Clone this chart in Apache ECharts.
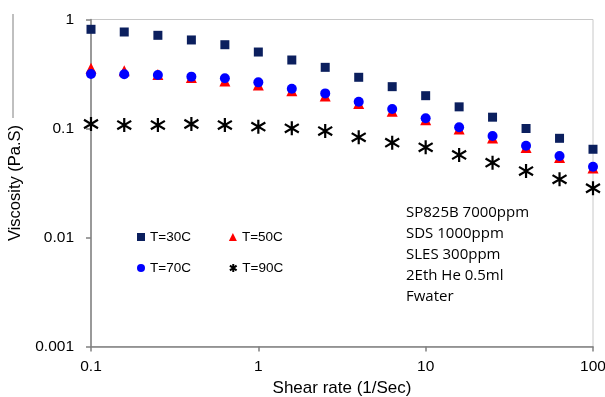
<!DOCTYPE html>
<html>
<head>
<meta charset="utf-8">
<script src="https://cdn.jsdelivr.net/npm/echarts@6/dist/echarts.min.js"></script>
<style>html,body{margin:0;padding:0;background:#fff;}#c{width:605px;height:397px;}</style>
</head>
<body>
<div id="c"></div>
<script>
const shearRate = [0.1, 0.158, 0.251, 0.398, 0.631, 1, 1.585, 2.51, 3.98, 6.31, 10, 15.85, 25.1, 39.8, 63.1, 100];
const t30 = [0.813, 0.768, 0.716, 0.649, 0.587, 0.503, 0.425, 0.364, 0.295, 0.242, 0.200, 0.158, 0.127, 0.100, 0.0813, 0.0645];
const t50 = [0.357, 0.339, 0.313, 0.294, 0.273, 0.251, 0.222, 0.199, 0.170, 0.144, 0.120, 0.0990, 0.0818, 0.0670, 0.0542, 0.0434];
const t70 = [0.316, 0.314, 0.310, 0.299, 0.289, 0.265, 0.232, 0.210, 0.176, 0.151, 0.124, 0.1026, 0.0854, 0.0695, 0.0559, 0.0446];
const t90 = [0.110, 0.1076, 0.1076, 0.110, 0.1076, 0.104, 0.1004, 0.0948, 0.0830, 0.0741, 0.0672, 0.0572, 0.0486, 0.0407, 0.0342, 0.0283];
const xTickLabels = ['0.1', '1', '10', '100'];
const yTickLabels = ['0.001', '0.01', '0.1', '1'];
const seriesNames = ['T=30C', 'T=50C', 'T=70C', 'T=90C'];
const noteLines = ['SP825B 7000ppm', 'SDS 1000ppm', 'SLES 300ppm', '2Eth He 0.5ml', 'Fwater'];

const pair = (ys) => shearRate.map((x, i) => [x, ys[i]]);
const starPath = 'path://M50,0L50,100M8,20L92,80M8,80L92,20';
const font = '"Liberation Sans"';

const chart = echarts.init(document.getElementById('c'), null, {renderer: 'canvas'});
chart.setOption({
  animation: false,
  backgroundColor: '#fff',
  grid: {left: 91, top: 19.5, right: 12, bottom: 50.5, containLabel: false, outerBoundsMode: 'none',
         show: true, borderColor: '#c8c8c8', borderWidth: 1},
  xAxis: {
    type: 'log', logBase: 10, min: 0.1, max: 100,
    name: 'Shear rate (1/Sec)', nameLocation: 'middle', nameGap: 33,
    nameTextStyle: {fontFamily: font, fontSize: 17, color: '#000'},
    axisLine: {show: true, lineStyle: {color: '#808080', width: 1.5}},
    axisTick: {show: true, length: 5, lineStyle: {color: '#808080', width: 1.5}},
    axisLabel: {margin: 12, fontFamily: font, fontSize: 15.5, color: '#000',
      formatter: (v, i) => xTickLabels[i] !== undefined ? xTickLabels[i] : ''},
    splitLine: {show: false}, minorTick: {show: false}
  },
  yAxis: {
    type: 'log', logBase: 10, min: 0.001, max: 1,
    name: 'Viscosity (Pa.S)', nameLocation: 'middle', nameGap: 64,
    nameTextStyle: {fontFamily: font, fontSize: 16.5, color: '#000'},
    axisLine: {show: true, lineStyle: {color: '#808080', width: 1.5}},
    axisTick: {show: true, length: 5, lineStyle: {color: '#808080', width: 1.5}},
    axisLabel: {margin: 17, fontFamily: font, fontSize: 15.5, color: '#000',
      formatter: (v, i) => yTickLabels[i] !== undefined ? yTickLabels[i] : ''},
    splitLine: {show: false}, minorTick: {show: false}
  },
  legend: [
    {data: [seriesNames[0], seriesNames[1]], left: 132, top: 225, itemWidth: 8, itemHeight: 8, itemGap: 38,
     textStyle: {fontFamily: font, fontSize: 13.5, color: '#000'}},
    {data: [seriesNames[2], seriesNames[3]], left: 132, top: 256, itemWidth: 8, itemHeight: 8, itemGap: 38,
     textStyle: {fontFamily: font, fontSize: 13.5, color: '#000'}}
  ],
  graphic: [
    {type: 'line', shape: {x1: 13, y1: 14, x2: 13, y2: 118}, style: {stroke: '#808080', lineWidth: 1}},
    {type: 'text', left: 406, top: 202, style: {text: noteLines.join('\n'), fontFamily: '"Open Sans"', fontSize: 15, lineHeight: 21, fill: '#000'}}
  ],
  series: [
    {name: seriesNames[3], type: 'scatter', data: pair(t90), symbol: starPath, symbolSize: 14,
     itemStyle: {color: 'rgba(0,0,0,0)', borderColor: '#000', borderWidth: 2.2, opacity: 1}, z: 2},
    {name: seriesNames[0], type: 'scatter', data: pair(t30), symbol: 'rect', symbolSize: 9,
     itemStyle: {color: '#0b1f5e', opacity: 1}, z: 3},
    {name: seriesNames[1], type: 'scatter', data: pair(t50), symbol: 'triangle', symbolSize: 11,
     itemStyle: {color: '#ff0000', opacity: 1}, z: 4},
    {name: seriesNames[2], type: 'scatter', data: pair(t70), symbol: 'circle', symbolSize: 10,
     itemStyle: {color: '#0000ff', opacity: 1}, z: 5}
  ]
});
</script>
</body>
</html>
